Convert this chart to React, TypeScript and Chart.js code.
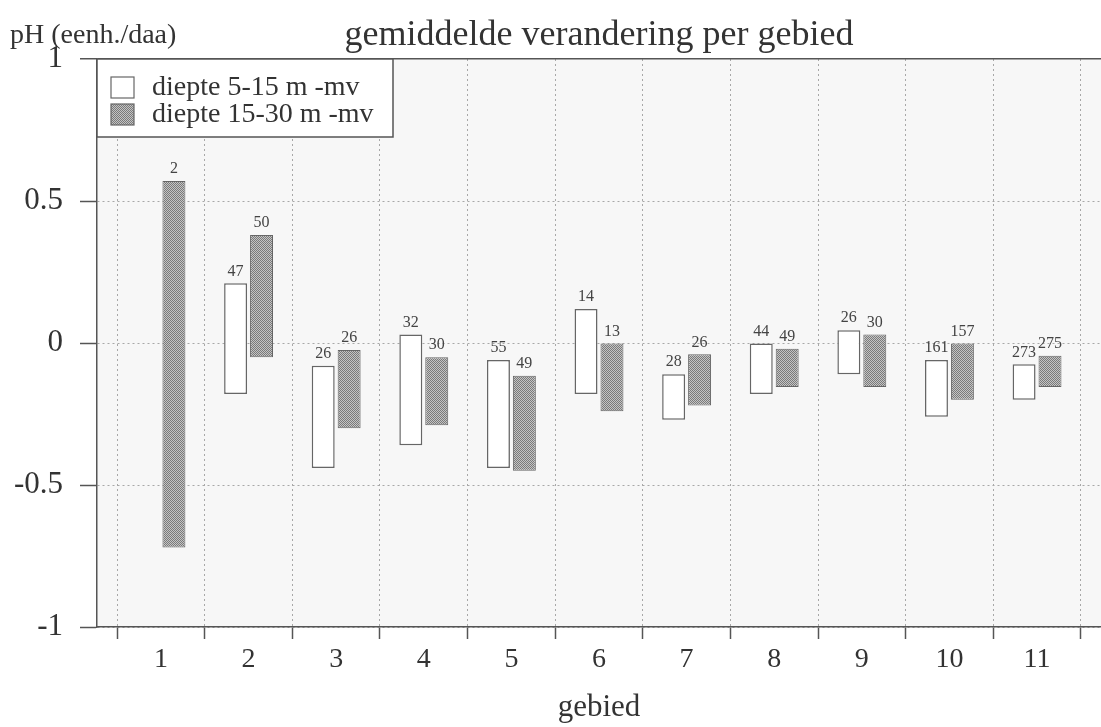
import React, { useEffect, useRef } from "react";
import { Chart, registerables } from "chart.js";

Chart.register(...registerables);

const categories = [1, 2, 3, 4, 5, 6, 7, 8, 9, 10, 11];
const whiteLow = [null, -0.18, -0.44, -0.36, -0.44, -0.18, -0.27, -0.18, -0.11, -0.26, -0.2];
const whiteHigh = [null, 0.21, -0.08, 0.03, -0.06, 0.12, -0.11, 0.0, 0.045, -0.06, -0.075];
const grayLow = [-0.72, -0.05, -0.3, -0.29, -0.45, -0.24, -0.22, -0.155, -0.155, -0.2, -0.155];
const grayHigh = [0.57, 0.38, -0.025, -0.05, -0.115, 0.0, -0.04, -0.02, 0.03, 0.0, -0.045];
const whiteN = [null, 47, 26, 32, 55, 14, 28, 44, 26, 161, 273];
const grayN = [2, 50, 26, 30, 49, 13, 26, 49, 30, 157, 275];
const yTicks = [-1, -0.5, 0, 0.5, 1];

const seriesNames = ["diepte 5-15 m -mv", "diepte 15-30 m -mv"];
const titleText = "gemiddelde verandering per gebied";
const yUnitText = "pH (eenh./daa)";
const xTitleText = "gebied";

const SERIF = '"Liberation Serif", "Times New Roman", serif';
const AXIS = "#555";

function makePattern(): CanvasPattern | string {
  const c = document.createElement("canvas");
  c.width = 2;
  c.height = 2;
  const g = c.getContext("2d");
  if (!g) return "#a6a6a6";
  g.fillStyle = "#c4c4c4";
  g.fillRect(0, 0, 2, 2);
  g.fillStyle = "#7a7a7a";
  g.fillRect(0, 0, 1, 1);
  g.fillRect(1, 1, 1, 1);
  const p = g.createPattern(c, "repeat");
  return p || "#a6a6a6";
}

export default function App() {
  const ref = useRef<HTMLCanvasElement | null>(null);

  useEffect(() => {
    if (!ref.current) return;
    const pattern = makePattern();
    const counts = [whiteN, grayN];

    const decor = {
      id: "decor",
      beforeDraw(chart: any) {
        const { ctx, chartArea } = chart;
        ctx.save();
        ctx.fillStyle = "#f7f7f7";
        ctx.fillRect(chartArea.left, chartArea.top, chartArea.right - chartArea.left, chartArea.bottom - chartArea.top);
        ctx.restore();
      },
      afterDatasetsDraw(chart: any) {
        const { ctx } = chart;
        ctx.save();
        ctx.font = `16px ${SERIF}`;
        ctx.fillStyle = "#444";
        ctx.textAlign = "center";
        ctx.textBaseline = "bottom";
        chart.data.datasets.forEach((_: any, di: number) => {
          const meta = chart.getDatasetMeta(di);
          meta.data.forEach((el: any, i: number) => {
            const n = counts[di][i];
            if (n === null || n === undefined) return;
            const top = Math.min(el.y, el.base);
            ctx.fillText(String(n), el.x, top - 4);
          });
        });
        ctx.restore();
      },
      afterDraw(chart: any) {
        const { ctx, chartArea } = chart;
        ctx.save();
        // title
        ctx.fillStyle = "#333";
        ctx.textAlign = "center";
        ctx.textBaseline = "alphabetic";
        ctx.font = `36px ${SERIF}`;
        ctx.fillText(titleText, (chartArea.left + chartArea.right) / 2, 45);
        // y unit
        ctx.textAlign = "left";
        ctx.font = `28px ${SERIF}`;
        ctx.fillText(yUnitText, 10, 43);
        // x title
        ctx.textAlign = "center";
        ctx.font = `31px ${SERIF}`;
        ctx.fillText(xTitleText, (chartArea.left + chartArea.right) / 2, 716);
        // legend
        const lx = chartArea.left;
        const ly = chartArea.top;
        ctx.fillStyle = "#ffffff";
        ctx.fillRect(lx, ly, 296, 78);
        ctx.strokeStyle = AXIS;
        ctx.lineWidth = 1.5;
        ctx.strokeRect(lx, ly, 296, 78);
        ctx.fillStyle = "#ffffff";
        ctx.fillRect(lx + 14, ly + 18, 23, 21);
        ctx.strokeStyle = "#666";
        ctx.lineWidth = 1.2;
        ctx.strokeRect(lx + 14, ly + 18, 23, 21);
        ctx.fillStyle = pattern as any;
        ctx.fillRect(lx + 14, ly + 45, 23, 21);
        ctx.strokeRect(lx + 14, ly + 45, 23, 21);
        ctx.fillStyle = "#333";
        ctx.textAlign = "left";
        ctx.textBaseline = "middle";
        ctx.font = `28px ${SERIF}`;
        ctx.fillText(seriesNames[0], lx + 55, ly + 29);
        ctx.fillText(seriesNames[1], lx + 55, ly + 56);
        ctx.restore();
      },
    };

    const chart = new Chart(ref.current, {
      type: "bar",
      data: {
        labels: categories,
        datasets: [
          {
            label: seriesNames[0],
            data: whiteLow.map((lo, i) => (lo === null ? null : [lo, whiteHigh[i] as number])) as any,
            backgroundColor: "#ffffff",
            borderColor: "#666",
            borderWidth: 1.5,
            borderSkipped: false,
          },
          {
            label: seriesNames[1],
            data: grayLow.map((lo, i) => [lo, grayHigh[i]]) as any,
            backgroundColor: pattern as any,
            borderColor: "#666",
            borderWidth: 1,
            borderSkipped: false,
          },
        ],
      },
      options: {
        responsive: false,
        animation: false,
        events: [],
        categoryPercentage: 0.592,
        barPercentage: 0.885,
        layout: { padding: { top: 59, left: 0, right: 0, bottom: 0 } },
        plugins: {
          legend: { display: false },
          tooltip: { enabled: false },
          title: { display: false },
        },
        scales: {
          x: {
            type: "linear",
            offset: false,
            min: 0.27,
            max: 11.73,
            afterBuildTicks: (scale: any) => {
              scale.ticks = categories.map((v) => ({ value: v }));
            },
            afterFit: (scale: any) => {
              scale.height = 100;
            },
            grid: {
              offset: true,
              color: "#a8a8a8",
              lineWidth: 1,
              tickLength: 12,
              tickColor: AXIS,
              tickWidth: 1.5,
              borderDash: [2, 3],
            } as any,
            border: { color: AXIS, width: 1.5, dash: [2, 3] } as any,
            ticks: {
              color: "#333",
              font: { family: SERIF, size: 28 },
              padding: 4,
              maxRotation: 0,
              autoSkip: false,
              callback: (v: any) => String(v),
            },
          },
          y: {
            min: -1,
            max: 1,
            afterBuildTicks: (scale: any) => {
              scale.ticks = yTicks.map((v) => ({ value: v }));
            },
            afterFit: (scale: any) => {
              scale.width = 97;
            },
            grid: {
              color: (c: any) => (c.tick && c.tick.value === 1 ? AXIS : "#a8a8a8"),
              lineWidth: (c: any) => (c.tick && c.tick.value === 1 ? 1.5 : 1),
              tickLength: 17,
              tickColor: AXIS,
              tickWidth: 1.5,
            } as any,
            border: {
              color: AXIS,
              width: 1.5,
              dash: (c: any) => (c.type === "tick" && c.tick && c.tick.value !== 1 ? [2, 3] : []),
            } as any,
            ticks: {
              color: "#333",
              font: { family: SERIF, size: 31 },
              padding: 17,
              callback: (v: any) => String(v),
            },
          },
        },
      },
      plugins: [decor],
    });

    return () => chart.destroy();
  }, []);

  return (
    <div style={{ position: "absolute", left: 0, top: 0, width: 1101, height: 727, background: "#fff" }}>
      <canvas ref={ref} width={1101} height={727} style={{ display: "block" }} />
    </div>
  );
}
